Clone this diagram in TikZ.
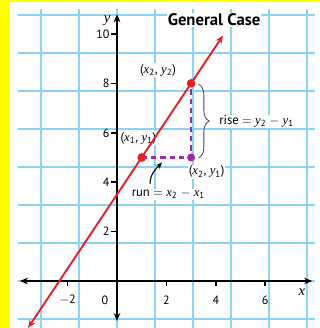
\documentclass[tikz,border=0pt]{standalone}
\usepackage{fontspec}
\setmainfont{PT Sans}
\newfontfamily\vfont{Liberation Serif}
\usetikzlibrary{arrows.meta,decorations.pathreplacing}
\definecolor{gridblue}{RGB}{140,212,245}
\definecolor{ylw}{RGB}{255,255,0}
\definecolor{lred}{RGB}{232,30,37}
\definecolor{purp}{RGB}{150,45,165}
\definecolor{brc}{RGB}{70,70,70}
\newcommand{\va}[2]{{\vfont\itshape #1}\textsubscript{#2}}
\begin{document}
\begin{tikzpicture}[x=0.65cm,y=0.65cm,
  lab/.style={fill=white, inner sep=0.6pt, font=\fontsize{9.5}{11}\selectfont},
  num/.style={inner sep=1pt, font=\fontsize{9}{10}\selectfont},
  axisline/.style={line width=1.4pt, black, {Stealth[length=6pt,width=5pt]}-{Stealth[length=6pt,width=5pt]}},
  tickline/.style={line width=1.2pt, black},
  redline/.style={line width=1.4pt, lred, {Stealth[length=6pt,width=5pt]}-{Stealth[length=6pt,width=5pt]}},
  purpdash/.style={line width=1.5pt, purp, dash pattern=on 4pt off 3pt},
  reddot/.style={circle, fill=lred, inner sep=0pt, minimum size=6.5pt},
  purpdot/.style={circle, fill=purp, inner sep=0pt, minimum size=6pt},
  bracestyle/.style={brc, line width=0.6pt, decorate, decoration={brace, amplitude=8pt, aspect=0.5}},
  runarrow/.style={line width=0.8pt, black, -{Stealth[length=5pt,width=4pt]}}
]
\useasboundingbox (-4.737,-1.903) rectangle (8.219,11.377);
\fill[white] (-4.737,-1.903) rectangle (8.219,11.377);
\fill[ylw] (-4.737,-1.903) rectangle (-4.33,11.377);
\fill[ylw] (-4.737,11.29) rectangle (8.219,11.377);
\draw[gridblue, line width=1.1pt] (-4,-1.903) grid (8,11);

% labels with white background
\node[lab, font=\fontsize{12.5}{14}\selectfont\bfseries] (title) at (3.93,10.58) {General Case};
\node[lab] (lp1) at (0.87,5.79) {(\va{x}{1}, \va{y}{1})};
\node[lab] (lp2) at (1.66,8.54) {(\va{x}{2}, \va{y}{2})};
\node[lab] (lp3) at (3.63,4.42) {(\va{x}{2}, \va{y}{1})};
\node[lab, anchor=west] (rise) at (4.1,6.45) {rise $=$ \va{y}{2} $-$ \va{y}{1}};
\node[lab] (run) at (2.08,3.52) {run $=$ \va{x}{2} $-$ \va{x}{1}};

% axes
\coordinate (XL) at (-3.93,0);
\coordinate (XR) at (7.9,0);
\coordinate (YB) at (0,-1.62);
\coordinate (YT) at (0,10.8);
\draw[axisline] (XL) -- (XR);
\draw[axisline] (YB) -- (YT);
\foreach \x/\t in {-2/$-$2,2/2,4/4,6/6}{
  \draw[tickline] (\x,0) -- (\x,-0.2);
  \node[num] (xl\x) at (\x,-0.77) {\t};
}
\foreach \y in {2,4,6,8,10}{
  \draw[tickline] (0,\y) -- (-0.24,\y);
  \node[num, anchor=east] (yl\y) at (-0.24,\y) {\y};
}
\node[num] (zero) at (-0.49,-0.77) {0};
\node[num, font=\fontsize{11}{12}\vfont\itshape] (xlab) at (7.49,-0.47) {x};
\node[num, font=\fontsize{11}{12}\vfont\itshape] (ylab) at (-0.4,10.55) {y};

% points
\coordinate (A) at (1,5);
\coordinate (B) at (3,8);
\coordinate (C) at (3,5);
\draw[purpdash] (A) -- (C) -- (B);

% red line
\coordinate (L1) at (-3.6,-1.9);
\coordinate (L2) at (4.29,9.935);
\draw[redline] (L1) -- (L2);

\node[reddot] (P1) at (A) {};
\node[reddot] (P2) at (B) {};
\node[purpdot] (P3) at (C) {};

% brace
\coordinate (BT) at (3.3,7.97);
\coordinate (BB) at (3.3,4.98);
\draw[bracestyle] (BT) -- (BB);

% run arrow
\coordinate (R1) at (1.34,3.93);
\coordinate (R2) at (1.83,4.8);
\draw[runarrow] (R1) to[out=90,in=225] (R2);
\end{tikzpicture}
\end{document}
